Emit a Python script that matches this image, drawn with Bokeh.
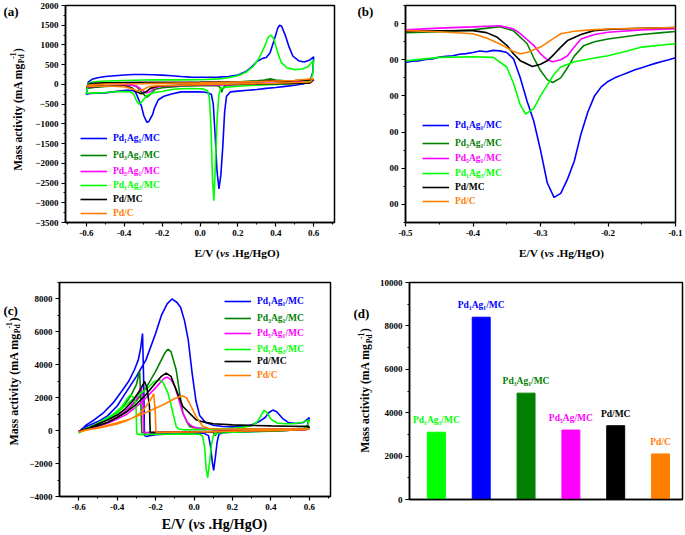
import math
from bokeh.plotting import figure
from bokeh.models import (Label, Legend, LegendItem, SingleIntervalTicker, FixedTicker,
                          NumeralTickFormatter, BasicTickFormatter, CustomJSTickFormatter,
                          ColumnDataSource, Range1d)
from bokeh.layouts import column, row
from bokeh.core.properties import value
from bokeh.embed import file_html
from bokeh.resources import INLINE

FONT = "Liberation Serif"

series_names = ["Pd₁Ag₁/MC", "Pd₃Ag₁/MC", "Pd₅Ag₁/MC", "Pd₁Ag₃/MC", "Pd/MC", "Pd/C"]
series_colors = ["#0000FF", "#008000", "#FF00FF", "#00FF00", "#000000", "#FF8000"]

# ---------------- panel (a): CV, forward + backward scan ----------------
a_blue_x = [-0.60, -0.59, -0.57, -0.54, -0.50, -0.45, -0.40, -0.35, -0.30, -0.25, -0.20, -0.15, -0.10, -0.05, 0.00, 0.05, 0.10, 0.15, 0.20, 0.24, 0.27, 0.30, 0.33, 0.35, 0.37, 0.39, 0.41, 0.42, 0.43, 0.45, 0.47, 0.49, 0.52, 0.55, 0.58, 0.60] + \
           [0.595, 0.58, 0.55, 0.50, 0.45, 0.40, 0.35, 0.30, 0.25, 0.20, 0.16, 0.14, 0.13, 0.12, 0.11, 0.10, 0.09, 0.08, 0.07, 0.06, 0.03, 0.00, -0.05, -0.10, -0.15, -0.19, -0.22, -0.24, -0.25, -0.27, -0.28, -0.296, -0.31, -0.32, -0.34, -0.355, -0.39, -0.45, -0.50, -0.55, -0.58, -0.60]
a_blue_y = [-250, 60, 130, 170, 200, 220, 240, 250, 250, 245, 235, 220, 200, 185, 180, 180, 185, 200, 240, 320, 430, 580, 660, 680, 800, 1100, 1420, 1500, 1480, 1250, 950, 720, 600, 570, 620, 700] + \
           [300, 80, 20, -20, -50, -80, -100, -130, -150, -170, -190, -300, -700, -1600, -2300, -2650, -2200, -1300, -500, -250, -200, -190, -190, -189, -244, -300, -389, -594, -761, -939, -961, -800, -539, -428, -195, -155, -150, -183, -215, -220, -230, -250]

a_dkgreen_x = [-0.60, -0.58, -0.55, -0.50, -0.40, -0.30, -0.20, -0.10, 0.00, 0.10, 0.20, 0.30, 0.34, 0.37, 0.40, 0.45, 0.50, 0.55, 0.60] + \
              [0.58, 0.50, 0.40, 0.30, 0.20, 0.15, 0.13, 0.12, 0.115, 0.11, 0.10, 0.08, 0.00, -0.10, -0.20, -0.236, -0.26, -0.282, -0.31, -0.334, -0.36, -0.42, -0.50, -0.55, -0.60]
a_dkgreen_y = [-100, 0, 20, 30, 40, 45, 45, 45, 45, 50, 60, 90, 110, 140, 110, 90, 95, 105, 120] + \
              [40, 20, 10, 0, -10, -20, -40, -120, -200, -120, -40, -30, -35, -44, -85, -122, -244, -326, -189, -56, -17, -39, -51, -70, -100]

a_magenta_x = [-0.60, -0.58, -0.55, -0.50, -0.30, 0.00, 0.30, 0.50, 0.60] + \
              [0.58, 0.40, 0.20, 0.00, -0.10, -0.20, -0.24, -0.26, -0.282, -0.30, -0.33, -0.36, -0.45, -0.50, -0.55, -0.60]
a_magenta_y = [-80, 10, 30, 40, 50, 50, 60, 70, 110] + \
              [40, 10, -10, -20, -28, -44, -85, -178, -211, -167, -56, -12, -25, -35, -50, -80]

a_lime_x = [-0.60, -0.59, -0.57, -0.54, -0.50, -0.40, -0.30, -0.20, -0.10, 0.00, 0.10, 0.15, 0.20, 0.24, 0.28, 0.31, 0.34, 0.36, 0.375, 0.39, 0.41, 0.43, 0.46, 0.50, 0.54, 0.57, 0.60] + \
           [0.595, 0.58, 0.55, 0.50, 0.40, 0.30, 0.20, 0.14, 0.11, 0.10, 0.09, 0.08, 0.073, 0.066, 0.058, 0.05, 0.04, 0.02, 0.00, -0.05, -0.10, -0.15, -0.20, -0.25, -0.28, -0.305, -0.322, -0.334, -0.35, -0.37, -0.40, -0.45, -0.50, -0.55, -0.60]
a_lime_y = [-225, 20, 60, 75, 85, 100, 110, 115, 115, 120, 140, 170, 220, 300, 450, 650, 950, 1200, 1250, 1150, 800, 550, 420, 375, 390, 450, 620] + \
           [250, 90, 50, 30, 0, -20, -45, -70, -100, -250, -900, -2200, -2950, -2400, -1100, -350, -160, -120, -110, -108, -111, -130, -178, -211, -280, -428, -500, -428, -244, -187, -183, -187, -206, -215, -225]

a_black_x = [-0.60, -0.58, -0.50, -0.30, 0.00, 0.30, 0.37, 0.45, 0.60] + \
            [0.58, 0.40, 0.20, 0.00, -0.10, -0.221, -0.26, -0.29, -0.312, -0.34, -0.364, -0.40, -0.50, -0.55, -0.60]
a_black_y = [-60, 20, 40, 50, 55, 70, 90, 80, 120] + \
            [40, 20, 5, -10, -22, -39, -94, -206, -237, -167, -76, -39, -43, -50, -60]

a_orange_x = [-0.60, -0.58, -0.50, -0.30, 0.00, 0.30, 0.50, 0.60] + \
             [0.58, 0.40, 0.20, 0.00, -0.10, -0.226, -0.27, -0.30, -0.33, -0.36, -0.40, -0.50, -0.55, -0.60]
a_orange_y = [-50, -10, 10, 20, 40, 70, 100, 150] + \
             [60, 30, 10, -5, -22, -35, -56, -130, -167, -113, -56, -39, -45, -50]

# ---------------- panel (b): zoom of the backward scan ----------------
b_blue_x = [-0.50, -0.49, -0.48, -0.47, -0.46, -0.45, -0.44, -0.43, -0.42, -0.41, -0.40, -0.39, -0.38, -0.37, -0.36, -0.35, -0.34, -0.33, -0.32, -0.31, -0.30, -0.29, -0.28, -0.27, -0.26, -0.25, -0.24, -0.23, -0.22, -0.21, -0.20, -0.19, -0.18, -0.17, -0.16, -0.15, -0.14, -0.13, -0.12, -0.11, -0.10]
b_blue_y = [-215, -208, -206, -198, -196, -185, -181, -178, -170, -166, -160, -152, -156, -148, -151, -160, -195, -300, -428, -539, -700, -880, -961, -939, -860, -761, -610, -490, -400, -350, -320, -300, -285, -270, -255, -244, -232, -220, -210, -200, -189]

b_dkgreen_x = [-0.50, -0.45, -0.40, -0.36, -0.34, -0.32, -0.31, -0.30, -0.29, -0.282, -0.27, -0.26, -0.25, -0.236, -0.22, -0.20, -0.17, -0.15, -0.12, -0.10]
b_dkgreen_y = [-51, -45, -35, -17, -40, -110, -189, -260, -310, -326, -300, -244, -180, -122, -100, -85, -70, -60, -50, -44]

b_magenta_x = [-0.50, -0.45, -0.40, -0.36, -0.34, -0.33, -0.31, -0.30, -0.29, -0.282, -0.27, -0.26, -0.25, -0.24, -0.22, -0.20, -0.15, -0.10]
b_magenta_y = [-35, -25, -18, -12, -30, -56, -120, -167, -200, -211, -200, -178, -130, -85, -60, -48, -35, -28]

b_lime_x = [-0.50, -0.45, -0.40, -0.37, -0.35, -0.34, -0.33, -0.322, -0.31, -0.30, -0.29, -0.28, -0.27, -0.25, -0.22, -0.20, -0.17, -0.15, -0.12, -0.10]
b_lime_y = [-206, -187, -183, -187, -240, -330, -450, -500, -470, -400, -340, -280, -240, -211, -190, -178, -150, -130, -118, -111]

b_black_x = [-0.50, -0.45, -0.40, -0.38, -0.364, -0.35, -0.34, -0.33, -0.312, -0.30, -0.29, -0.28, -0.27, -0.26, -0.24, -0.221, -0.20, -0.15, -0.10]
b_black_y = [-43, -40, -39, -50, -76, -120, -167, -205, -237, -225, -206, -170, -130, -94, -60, -39, -32, -26, -22]

b_orange_x = [-0.50, -0.45, -0.40, -0.38, -0.36, -0.34, -0.33, -0.32, -0.30, -0.28, -0.27, -0.25, -0.226, -0.20, -0.15, -0.10]
b_orange_y = [-39, -45, -56, -80, -113, -155, -167, -160, -130, -80, -56, -42, -35, -30, -26, -22]

# ---------------- panel (c): CV in ethanol ----------------
c_blue_x = [-0.60, -0.58, -0.55, -0.50, -0.45, -0.40, -0.35, -0.30, -0.25, -0.20, -0.17, -0.14, -0.115, -0.09, -0.07, -0.05, -0.03, -0.01, 0.01, 0.03, 0.06, 0.10, 0.15, 0.20, 0.25, 0.30, 0.34, 0.37, 0.39, 0.41, 0.43, 0.46, 0.49, 0.53, 0.57, 0.60] + \
           [0.59, 0.57, 0.50, 0.40, 0.30, 0.20, 0.15, 0.13, 0.12, 0.11, 0.102, 0.095, 0.085, 0.075, 0.05, 0.00, -0.10, -0.20, -0.23, -0.245, -0.258, -0.262, -0.268, -0.278, -0.29, -0.31, -0.34, -0.37, -0.42, -0.47, -0.52, -0.56, -0.60]
c_blue_y = [-100, 150, 300, 550, 900, 1500, 2400, 3300, 4300, 5900, 7000, 7700, 8000, 7800, 7500, 6700, 5500, 3500, 1800, 900, 500, 330, 250, 230, 250, 350, 560, 800, 1100, 1250, 1150, 750, 500, 430, 500, 800] + \
           [300, 100, 20, -20, -60, -100, -130, -200, -700, -1700, -2420, -1900, -900, -300, -150, -140, -180, -250, -300, -350, -300, 3000, 5900, 5000, 4300, 3700, 3000, 2500, 1700, 1100, 650, 350, -100]

c_dkgreen_x = [-0.60, -0.58, -0.50, -0.45, -0.40, -0.35, -0.30, -0.25, -0.20, -0.17, -0.15, -0.136, -0.12, -0.093, -0.075, -0.058, -0.04, -0.024, 0.00, 0.05, 0.10, 0.20, 0.30, 0.40, 0.50, 0.60] + \
              [0.58, 0.50, 0.40, 0.20, 0.13, 0.12, 0.11, 0.10, 0.05, 0.00, -0.10, -0.20, -0.25, -0.272, -0.277, -0.283, -0.29, -0.30, -0.33, -0.36, -0.40, -0.45, -0.50, -0.55, -0.60]
c_dkgreen_y = [-50, 50, 300, 500, 800, 1200, 1800, 2600, 3600, 4300, 4750, 4950, 4800, 3700, 2300, 1070, 600, 260, 180, 130, 110, 100, 100, 100, 110, 150] + \
              [60, 20, 0, -20, -40, -150, -300, -100, -60, -70, -80, -100, -130, -120, 1800, 3600, 3300, 2800, 2100, 1600, 1100, 700, 400, 150, -50]

c_magenta_x = [-0.60, -0.58, -0.50, -0.45, -0.40, -0.35, -0.30, -0.25, -0.20, -0.17, -0.155, -0.141, -0.12, -0.10, -0.08, -0.058, -0.035, -0.01, 0.02, 0.06, 0.10, 0.20, 0.30, 0.40, 0.50, 0.60] + \
              [0.58, 0.50, 0.40, 0.20, 0.10, 0.00, -0.10, -0.20, -0.25, -0.262, -0.266, -0.274, -0.28, -0.29, -0.30, -0.33, -0.36, -0.40, -0.45, -0.50, -0.55, -0.60]
c_magenta_y = [-50, 50, 250, 450, 700, 1000, 1450, 2000, 2600, 3000, 3180, 3250, 3100, 2690, 1900, 1070, 500, 260, 150, 100, 80, 70, 70, 80, 90, 120] + \
              [50, 20, 0, -20, -40, -60, -80, -100, -120, -100, 1500, 2690, 2500, 2200, 1900, 1500, 1150, 800, 500, 300, 100, -50]

c_lime_x = [-0.60, -0.58, -0.50, -0.45, -0.40, -0.35, -0.30, -0.25, -0.21, -0.18, -0.16, -0.136, -0.12, -0.11, -0.093, -0.08, -0.05, 0.00, 0.10, 0.20, 0.25, 0.30, 0.33, 0.35, 0.364, 0.38, 0.40, 0.433, 0.47, 0.52, 0.56, 0.60] + \
           [0.59, 0.57, 0.50, 0.40, 0.30, 0.20, 0.12, 0.10, 0.09, 0.08, 0.071, 0.063, 0.055, 0.045, 0.03, 0.00, -0.10, -0.20, -0.28, -0.298, -0.302, -0.31, -0.33, -0.35, -0.38, -0.42, -0.47, -0.52, -0.56, -0.60]
c_lime_y = [-150, 50, 400, 700, 1100, 1600, 2100, 2500, 2950, 3090, 2900, 2280, 1600, 1070, 260, 100, 50, 60, 80, 150, 200, 300, 550, 950, 1230, 1100, 700, 465, 420, 430, 500, 650] + \
           [250, 100, 20, -30, -60, -100, -140, -300, -900, -2000, -2870, -2300, -1000, -350, -220, -200, -210, -220, -240, -200, 1500, 1950, 2180, 1900, 1400, 1000, 650, 350, 100, -150]

c_black_x = [-0.60, -0.58, -0.50, -0.45, -0.40, -0.35, -0.30, -0.25, -0.20, -0.17, -0.145, -0.12, -0.10, -0.058, 0.01, 0.036, 0.10, 0.20, 0.28, 0.40, 0.50, 0.59, 0.60] + \
            [0.59, 0.50, 0.40, 0.20, 0.10, 0.00, -0.10, -0.20, -0.228, -0.232, -0.245, -0.257, -0.27, -0.29, -0.32, -0.36, -0.40, -0.45, -0.50, -0.55, -0.60]
c_black_y = [-50, 50, 300, 500, 800, 1150, 1600, 2200, 2900, 3300, 3500, 3300, 2690, 1470, 670, 565, 420, 350, 320, 290, 270, 260, 250] + \
            [100, 20, 0, -30, -60, -80, -100, -120, -120, 1500, 2600, 2990, 2700, 2300, 1800, 1300, 950, 650, 400, 150, -50]

c_orange_x = [-0.60, -0.58, -0.50, -0.40, -0.34, -0.25, -0.16, -0.10, -0.062, -0.04, -0.024, 0.01, 0.045, 0.08, 0.10, 0.20, 0.30, 0.40, 0.50, 0.60] + \
             [0.59, 0.50, 0.40, 0.20, 0.10, 0.00, -0.10, -0.19, -0.198, -0.202, -0.21, -0.23, -0.26, -0.30, -0.35, -0.40, -0.50, -0.55, -0.60]
c_orange_y = [-80, 0, 180, 480, 670, 1100, 1570, 1950, 2120, 2000, 1680, 870, 260, 130, 120, 100, 90, 90, 100, 120] + \
             [80, 20, 0, -30, -60, -80, -90, -100, -100, 1200, 2240, 1800, 1300, 900, 600, 400, 150, 50, -80]

# ---------------- panel (d): peak mass activity ----------------
d_labels = ["Pd₁Ag₃/MC", "Pd₁Ag₁/MC", "Pd₃Ag₁/MC", "Pd₅Ag/MC", "Pd/MC", "Pd/C"]
d_values = [3100, 8400, 4900, 3200, 3400, 2100]
d_colors = ["#00FF00", "#0000FF", "#008000", "#FF00FF", "#000000", "#FF8000"]

a_xs = [a_blue_x, a_dkgreen_x, a_magenta_x, a_lime_x, a_black_x, a_orange_x]
a_ys = [a_blue_y, a_dkgreen_y, a_magenta_y, a_lime_y, a_black_y, a_orange_y]
b_xs = [b_blue_x, b_dkgreen_x, b_magenta_x, b_lime_x, b_black_x, b_orange_x]
b_ys = [b_blue_y, b_dkgreen_y, b_magenta_y, b_lime_y, b_black_y, b_orange_y]
c_xs = [c_blue_x, c_dkgreen_x, c_magenta_x, c_lime_x, c_black_x, c_orange_x]
c_ys = [c_blue_y, c_dkgreen_y, c_magenta_y, c_lime_y, c_black_y, c_orange_y]


# ---------------- layout geometry (page pixels; the page has no margin) ----------------
def geom(left, top, w, h, bl=0, br=0, bt=0, bb=0):
    return dict(left=left, top=top, w=w, h=h, bl=bl, br=br, bt=bt, bb=bb,
                fl=left + bl, fb=top + h - bb)


def make_fig(g, xr, yr):
    p = figure(width=g["w"], height=g["h"], x_range=Range1d(*xr), y_range=Range1d(*yr),
               output_backend="svg", toolbar_location=None,
               min_border_left=g["bl"], min_border_right=g["br"],
               min_border_top=g["bt"], min_border_bottom=g["bb"])
    p.grid.visible = False
    p.outline_line_color = "black"
    p.outline_line_width = 1.5
    p.outline_line_alpha = 1.0
    for ax in (p.xaxis[0], p.yaxis[0]):
        ax.axis_line_width = 1.5
        ax.major_tick_line_width = 1.2
        ax.minor_tick_line_width = 1.0
        ax.major_tick_out = 4
        ax.major_tick_in = 0
        ax.minor_tick_out = 2
        ax.minor_tick_in = 0
        ax.major_label_standoff = 3
        ax.major_label_text_font = FONT
        ax.major_label_text_font_style = "bold"
        ax.major_label_text_font_size = "9px"
        ax.major_label_text_color = "black"
    return p


def carrier(g):
    c = figure(width=g["w"], height=g["h"], x_range=Range1d(0, g["w"]), y_range=Range1d(0, g["h"]),
               output_backend="svg", toolbar_location=None,
               x_axis_location=None, y_axis_location=None,
               min_border_left=0, min_border_right=0, min_border_top=0, min_border_bottom=0)
    c.grid.visible = False
    c.outline_line_color = None
    return c


def add_label(p, g, px, py, text, size, align="left", baseline="middle", angle=0.0,
              color="black", style="bold"):
    p.add_layout(Label(x=px - g["fl"], y=g["fb"] - py, x_units="screen", y_units="screen",
                       text=text, text_font=FONT, text_font_size=f"{size}px",
                       text_font_style=style, text_align=align, text_baseline=baseline,
                       angle=angle, text_color=color))


def xlabel(p, g, cx, cy, f):
    w1, w2, w3 = 2.250 * f, 0.833 * f, 4.195 * f
    gap = 0.25 * f
    start = cx - (w1 + w2 + gap + w3) / 2
    add_label(p, g, start, cy, "E/V (", f)
    add_label(p, g, start + w1, cy, "vs", f, style="bold italic")
    add_label(p, g, start + w1 + w2 + gap, cy, ".Hg/HgO)", f)


def ylabel(p, g, cx, cy, f):
    wm = 9.359 * f
    fs = 0.65 * f
    wpd = 1.167 * fs
    total = wm + 0.97 * f + 0.333 * f
    start = cy + total / 2
    a = math.pi / 2
    add_label(p, g, cx, start, "Mass activity (mA mg", f, angle=a)
    add_label(p, g, cx + 0.32 * f, start - wm, "Pd", round(fs, 1), angle=a)
    add_label(p, g, cx - 0.38 * f, start - wm - 0.5 * wpd, "-1", round(fs, 1), angle=a)
    add_label(p, g, cx, start - wm - 0.97 * f, ")", f, angle=a)


def add_legends(p, g, renderers, x_page, y_pages, size):
    for r, name, col, yp in zip(renderers, series_names, series_colors, y_pages):
        leg = Legend(items=[LegendItem(label=value(name), renderers=[r])],
                     location=(x_page - g["fl"], g["fb"] - yp - 5),
                     padding=0, margin=0, spacing=0,
                     border_line_color=None, background_fill_alpha=0,
                     glyph_width=27, glyph_height=10, label_height=10, label_width=10,
                     label_standoff=6, label_text_font=FONT, label_text_font_style="bold",
                     label_text_font_size=f"{size}px", label_text_color=col)
        p.add_layout(leg)


def draw_curves(p, xs, ys):
    rs = []
    for x, y, col in zip(xs, ys, series_colors):
        rs.append(p.line(x, y, line_color=col, line_width=1.6))
    return rs


# geometry of every block
GSA = geom(0, 0, 28, 270)
GA = geom(28, 0, 312, 242, 37, 6, 5, 20)
GXA = geom(28, 242, 312, 28)
GSB = geom(340, 0, 40, 270)
GB = geom(380, 0, 304, 242, 25, 9, 5, 20)
GXB = geom(380, 242, 304, 28)
GSC = geom(0, 270, 26, 264)
GC = geom(26, 270, 314, 245, 32, 10, 12, 19)
GXC = geom(26, 515, 314, 19)
GSD = geom(340, 270, 36, 264)
GD = geom(376, 270, 308, 264, 32, 2, 12, 35)

# ---------------- (a) ----------------
pa = make_fig(GA, (-0.71, 0.71), (-3500, 2000))
pa.xaxis.ticker = SingleIntervalTicker(interval=0.2, num_minor_ticks=2)
pa.xaxis.formatter = NumeralTickFormatter(format="0.0")
pa.yaxis.ticker = SingleIntervalTicker(interval=500, num_minor_ticks=2)
pa.yaxis.formatter = BasicTickFormatter(use_scientific=False)
ra = draw_curves(pa, a_xs, a_ys)
add_legends(pa, GA, ra, 80, [138, 155, 171, 185, 199, 213], 9.5)

sa = carrier(GSA)
add_label(sa, GSA, 3, 3, "(a)", 13, baseline="top")
ylabel(sa, GSA, 17, 109, 11.5)
xa = carrier(GXA)
xlabel(xa, GXA, 199.5, 252, 11.3)

# ---------------- (b) ----------------
pb = make_fig(GB, (-0.5, -0.1), (-1100, 100))
pb.xaxis.ticker = SingleIntervalTicker(interval=0.1, num_minor_ticks=2)
pb.xaxis.formatter = NumeralTickFormatter(format="0.0")
pb.yaxis.ticker = SingleIntervalTicker(interval=200, num_minor_ticks=2)
pb.yaxis.formatter = CustomJSTickFormatter(code="return Math.abs(tick) < 1 ? '0' : '00';")
rb = draw_curves(pb, b_xs, b_ys)
add_legends(pb, GB, rb, 422, [125, 143, 158, 173, 187, 201], 9.5)

sb = carrier(GSB)
add_label(sb, GSB, 357, 3, "(b)", 13, baseline="top")
xb = carrier(GXB)
xlabel(xb, GXB, 536, 252, 11.3)

# ---------------- (c) ----------------
pc = make_fig(GC, (-0.70, 0.71), (-4000, 9000))
pc.xaxis.ticker = SingleIntervalTicker(interval=0.2, num_minor_ticks=2)
pc.xaxis.formatter = NumeralTickFormatter(format="0.0")
pc.yaxis.ticker = SingleIntervalTicker(interval=2000, num_minor_ticks=2)
pc.yaxis.formatter = BasicTickFormatter(use_scientific=False)
rc = draw_curves(pc, c_xs, c_ys)
add_legends(pc, GC, rc, 223, [301, 318, 333, 349, 361, 375], 9.5)

sc = carrier(GSC)
add_label(sc, GSC, 3, 302, "(c)", 13, baseline="top")
ylabel(sc, GSC, 13, 381, 12)
xc = carrier(GXC)
xlabel(xc, GXC, 181, 524, 14)

# ---------------- (d) ----------------
pd_ = make_fig(GD, (0.4, 6.49), (0, 10000))
pd_.xaxis.ticker = FixedTicker(ticks=[])
pd_.xaxis.major_tick_line_color = None
pd_.xaxis.minor_tick_line_color = None
pd_.yaxis.ticker = SingleIntervalTicker(interval=2000, num_minor_ticks=2)
pd_.yaxis.formatter = BasicTickFormatter(use_scientific=False)
d_pos = list(range(1, len(d_values) + 1))
src = ColumnDataSource(dict(x=d_pos, top=d_values, label=d_labels, color=d_colors))
pd_.vbar(x="x", top="top", width=0.4, fill_color="color", line_color="color", source=src)
pd_.text(x="x", y="top", text="label", text_color="color", source=src,
         text_align="center", text_baseline="bottom", y_offset=-7,
         text_font=value(FONT), text_font_style="bold", text_font_size="9.5px")

sd = carrier(GSD)
add_label(sd, GSD, 353, 305, "(d)", 13, baseline="top")
ylabel(sd, GSD, 365, 390, 11.7)

# every plot is wrapped in its own column so that no frames get aligned across a row
layout = column(
    row(column(sa), column(pa, xa), column(sb), column(pb, xb)),
    row(column(sc), column(pc, xc), column(sd), column(pd_)),
)
open("out.html", "w").write(file_html(layout, INLINE))
